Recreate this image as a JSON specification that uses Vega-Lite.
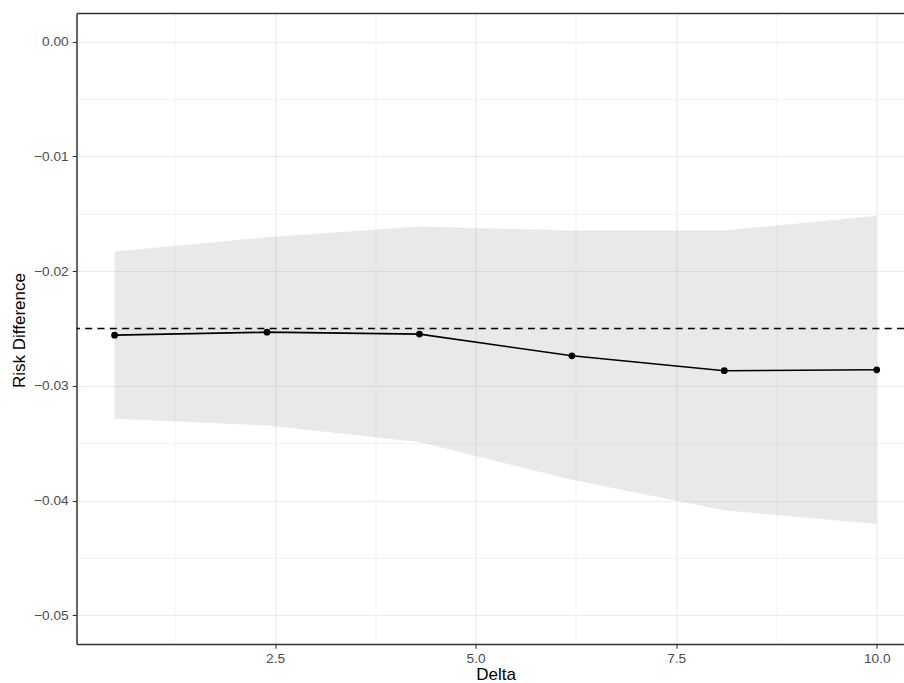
{
  "$schema": "https://vega.github.io/schema/vega-lite/v6.json",
  "width": 827.5,
  "height": 631,
  "autosize": {"type": "none"},
  "padding": {"left": 76.5, "top": 13, "right": 0, "bottom": 39},
  "background": "white",
  "config": {
    "font": "Liberation Sans",
    "view": {"stroke": null},
    "axis": {
      "labelFont": "Liberation Sans",
      "titleFont": "Liberation Sans",
      "labelFontSize": 13.7,
      "labelColor": "#4D4D4D",
      "titleFontSize": 17,
      "titleColor": "#000000",
      "titleFontWeight": "normal",
      "tickColor": "#333333",
      "tickSize": 4.3,
      "tickWidth": 1.1,
      "domainColor": "#333333",
      "domainWidth": 1.5,
      "gridColor": "#EBEBEB"
    }
  },
  "data": {
    "values": [
      {"delta": 0.5, "est": -0.02558, "lo": -0.03287, "hi": -0.01829},
      {"delta": 2.4, "est": -0.02532, "lo": -0.03345, "hi": -0.01704},
      {"delta": 4.3, "est": -0.02549, "lo": -0.0349, "hi": -0.01611},
      {"delta": 6.2, "est": -0.02738, "lo": -0.03818, "hi": -0.01646},
      {"delta": 8.1, "est": -0.02868, "lo": -0.04085, "hi": -0.01646},
      {"delta": 10.0, "est": -0.0286, "lo": -0.04204, "hi": -0.01518}
    ]
  },
  "resolve": {"axis": {"x": "independent"}},
  "layer": [
    {
      "mark": {"type": "area", "color": "#999999", "opacity": 0.22},
      "encoding": {
        "x": {
          "field": "delta", "type": "quantitative",
          "scale": {"domain": [0.025, 10.34], "nice": false, "zero": false},
          "axis": {
            "orient": "bottom",
            "title": "Delta",
            "values": [1.25, 2.5, 3.75, 5, 6.25, 7.5, 8.75, 10],
            "labelExpr": "datum.value % 2.5 == 0 ? format(datum.value, '.1f') : ''",
            "tickOpacity": {"condition": {"test": "datum.value % 2.5 == 0", "value": 1}, "value": 0},
            "gridWidth": {"condition": {"test": "datum.value % 2.5 == 0", "value": 1.2}, "value": 0.6},
            "labelPadding": 3,
            "titleX": 419,
            "titleY": 35,
            "titleAlign": "center",
            "titleBaseline": "alphabetic",
            "labelFlush": false
          }
        },
        "y": {
          "field": "lo", "type": "quantitative",
          "scale": {"domain": [-0.0525, 0.0025], "nice": false, "zero": false},
          "axis": {
            "title": "Risk Difference",
            "values": [-0.05, -0.045, -0.04, -0.035, -0.03, -0.025, -0.02, -0.015, -0.01, -0.005, 0],
            "labelExpr": "abs(datum.value*100 - round(datum.value*100)) < 1e-6 ? format(datum.value, '.2f') : ''",
            "tickOpacity": {"condition": {"test": "abs(datum.value*100 - round(datum.value*100)) < 1e-6", "value": 1}, "value": 0},
            "gridWidth": {"condition": {"test": "abs(datum.value*100 - round(datum.value*100)) < 1e-6", "value": 1.2}, "value": 0.6},
            "labelPadding": 4,
            "titleX": -52.5,
            "titleY": 317,
            "titleAngle": -90,
            "titleAlign": "center",
            "titleBaseline": "alphabetic",
            "labelFlush": false
          }
        },
        "y2": {"field": "hi"}
      }
    },
    {
      "mark": {"type": "line", "color": "#000000", "strokeWidth": 1.6},
      "encoding": {
        "x": {"field": "delta", "type": "quantitative", "axis": null},
        "y": {"field": "est", "type": "quantitative"}
      }
    },
    {
      "mark": {"type": "point", "filled": true, "color": "#000000", "opacity": 1, "size": 46},
      "encoding": {
        "x": {
          "field": "delta", "type": "quantitative",
          "axis": {"orient": "top", "labels": false, "ticks": false, "grid": false, "title": null, "domain": true}
        },
        "y": {"field": "est", "type": "quantitative"}
      }
    },
    {
      "data": {"values": [{"ref": -0.025}]},
      "mark": {"type": "rule", "color": "#000000", "strokeWidth": 1.6, "strokeDash": [7, 5.3]},
      "encoding": {
        "y": {"field": "ref", "type": "quantitative"}
      }
    }
  ]
}
